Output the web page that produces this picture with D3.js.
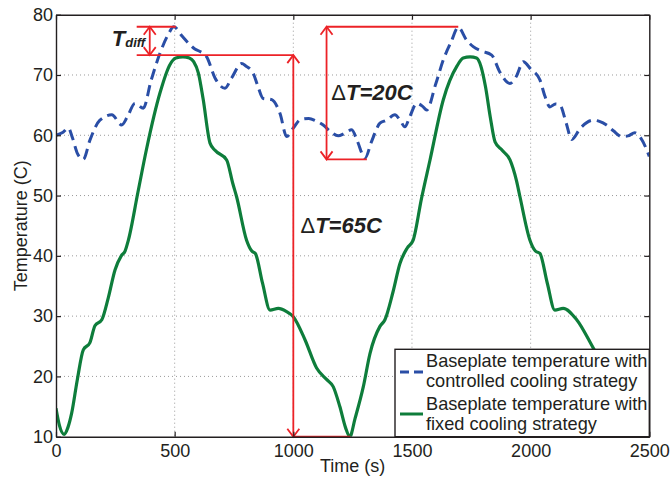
<!DOCTYPE html>
<html>
<head>
<meta charset="utf-8">
<script src="https://cdn.jsdelivr.net/npm/d3@7"></script>
<style>
  html, body { margin: 0; padding: 0; background: #fff; }
  svg { display: block; font-family: "Liberation Sans", Arial, sans-serif; }
</style>
</head>
<body>
<svg id="chart" width="670" height="481"></svg>
<script>
// ---------- data ----------
const xTicks = [0, 500, 1000, 1500, 2000, 2500];
const yTicks = [10, 20, 30, 40, 50, 60, 70, 80];
const xLabel = "Time (s)";
const yLabel = "Temperature (C)";
const seriesNames = ["Baseplate temperature with\ncontrolled cooling strategy",
                     "Baseplate temperature with\nfixed cooling strategy"];

const controlledTime = [0, 30, 52, 70, 90, 115, 143, 185, 235, 277, 300, 333, 368, 400, 438, 470, 497, 530, 565, 585, 607, 635, 670, 712, 740, 782, 800, 831, 850, 873, 895, 909, 944, 972, 1000, 1030, 1065, 1095, 1126, 1160, 1189, 1215, 1246, 1270, 1302, 1330, 1365, 1393, 1428, 1450, 1470, 1490, 1520, 1545, 1562, 1600, 1632, 1665, 1695, 1730, 1758, 1790, 1836, 1870, 1913, 1940, 1969, 2000, 2039, 2060, 2081, 2105, 2124, 2150, 2173, 2210, 2264, 2290, 2320, 2350, 2383, 2410, 2439, 2465, 2500];
const controlledTemp = [60, 60.5, 61.2, 59.5, 57, 56, 59.2, 62.5, 63.4, 61.7, 63, 65.3, 64.5, 69, 73.6, 76.5, 78, 76.5, 75, 74.3, 73.9, 73, 69.5, 67.8, 69.5, 71.9, 71.5, 70.3, 68.2, 66.1, 66, 65.9, 63.6, 59.8, 61.2, 62.6, 62.8, 62.4, 61.7, 60.5, 59.9, 60.3, 60.9, 59, 56.2, 59, 62, 62.5, 63.4, 62.5, 61.4, 63, 65.3, 64.8, 64.2, 68.5, 72.5, 75.5, 77.9, 75.8, 74.7, 74, 73.3, 70.5, 68.6, 69.8, 72.2, 71, 69.2, 66.5, 64.7, 65.2, 65, 62, 59.3, 61.2, 62.5, 62.3, 61.7, 60.7, 59.8, 59.9, 60.4, 59.5, 56.5];

const fixedTime = [0, 15, 34, 50, 66, 90, 115, 143, 164, 193, 220, 249, 275, 291, 305, 345, 382, 438, 480, 505, 535, 562, 580, 600, 620, 649, 670, 719, 745, 761, 803, 825, 840, 870, 902, 937, 970, 1000, 1050, 1098, 1140, 1168, 1196, 1220, 1238, 1260, 1295, 1323, 1365, 1386, 1420, 1449, 1480, 1505, 1540, 1576, 1632, 1690, 1716, 1745, 1772, 1790, 1810, 1830, 1850, 1880, 1913, 1940, 1955, 1997, 2020, 2039, 2070, 2102, 2137, 2194, 2264, 2310, 2350, 2390, 2420, 2450, 2480, 2500];
const fixedTemp = [14.7, 11.8, 10.4, 11.5, 13.9, 19.5, 24.4, 25.6, 28.4, 29.4, 33, 37.7, 40, 40.8, 42.6, 50.5, 57.8, 67, 71.7, 72.8, 73, 72.8, 72.2, 70.3, 66, 58.7, 57.5, 55.9, 52, 49.8, 42.6, 40.8, 40.4, 35.5, 31, 31.3, 30.8, 29.9, 26, 21.4, 19.5, 18.3, 15, 11.5, 10, 13, 18.3, 23.8, 28.3, 29.4, 34, 38.7, 41.3, 42.6, 49.5, 55.9, 65.9, 71.5, 72.8, 73, 72.8, 71.5, 68, 63, 58.9, 57.5, 55.9, 52.5, 49.8, 42.6, 40.8, 40.4, 35.5, 31, 31.3, 29.4, 24.7, 21.5, 19.5, 18.3, 16, 12, 10.5, 11];

// annotation values (time, temperature)
const tdiffLevels = [78, 73.3];
const tdiffStart = 340;
const tdiffEnd = [505, 1000];
const tdiffArrowTime = 395;
const dt65Time = 1000, dt65Top = 73.3, dt65Bottom = 10, dt65End = 1240;
const dt20Time = 1140, dt20Top = 78, dt20Bottom = 56, dt20TopEnd = 1695, dt20BottomEnd = 1310;

// ---------- chart ----------
const svg = d3.select("#chart");
const X0 = 56, X1 = 649.3, Y0 = 14.7, Y1 = 436.7;
const x = d3.scaleLinear().domain([0, 2500]).range([X0, X1]);
const y = d3.scaleLinear().domain([10, 80]).range([Y1, Y0]);
const ink = "#231f20";
const fs = 18;

// grid
const grid = svg.append("g").attr("stroke", "#9a9a9a").attr("stroke-width", 1).attr("stroke-dasharray", "1,3");
grid.selectAll(".gx").data(xTicks.slice(1, -1)).join("line")
  .attr("x1", d => x(d)).attr("x2", d => x(d)).attr("y1", Y0).attr("y2", Y1);
grid.selectAll(".gy").data(yTicks.slice(1, -1)).join("line")
  .attr("y1", d => y(d)).attr("y2", d => y(d)).attr("x1", X0).attr("x2", X1);

// clip
svg.append("clipPath").attr("id", "clip").append("rect")
  .attr("x", X0).attr("y", Y0).attr("width", X1 - X0).attr("height", Y1 - Y0);

const line = d3.line().curve(d3.curveMonotoneX).x(d => x(d[0])).y(d => y(d[1]));
const fixedData = fixedTime.map((t, i) => [t, fixedTemp[i]]);
const ctrlData = controlledTime.map((t, i) => [t, controlledTemp[i]]);

const plot = svg.append("g").attr("clip-path", "url(#clip)");
plot.append("path").datum(fixedData).attr("d", line)
  .attr("fill", "none").attr("stroke", "#0e7d3b").attr("stroke-width", 3.2).attr("stroke-linejoin", "round");
plot.append("path").datum(ctrlData).attr("d", line)
  .attr("fill", "none").attr("stroke", "#2a4ea6").attr("stroke-width", 3).attr("stroke-dasharray", "11,6");

// annotations
const red = "#ec2227";
const ann = svg.append("g").attr("stroke", red).attr("stroke-width", 1.8).attr("fill", "none");
function hline(t0, t1, v) {
  ann.append("line").attr("x1", x(t0)).attr("x2", x(t1)).attr("y1", y(v)).attr("y2", y(v));
}
function darrow(t, vTop, vBot) {
  const px = x(t), yt = y(vTop), yb = y(vBot), w = 6, h = 8;
  ann.append("line").attr("x1", px).attr("x2", px).attr("y1", yt).attr("y2", yb);
  ann.append("path").attr("d", `M${px - w},${yt + h}L${px},${yt}L${px + w},${yt + h}`);
  ann.append("path").attr("d", `M${px - w},${yb - h}L${px},${yb}L${px + w},${yb - h}`);
}
hline(tdiffStart, tdiffEnd[0], tdiffLevels[0]);
hline(tdiffStart, tdiffEnd[1], tdiffLevels[1]);
darrow(tdiffArrowTime, tdiffLevels[0], tdiffLevels[1]);
darrow(dt65Time, dt65Top, dt65Bottom);
hline(dt65Time, dt65End, dt65Bottom);
darrow(dt20Time, dt20Top, dt20Bottom);
hline(dt20Time, dt20TopEnd, dt20Top);
hline(dt20Time, dt20BottomEnd, dt20Bottom);

// annotation text
const tt = svg.append("g").attr("fill", ink);
const tdiffText = tt.append("text").attr("x", x(235)).attr("y", 46)
  .attr("font-weight", "bold").attr("font-style", "italic");
tdiffText.append("tspan").attr("font-size", 22).text("T");
tdiffText.append("tspan").attr("font-size", 13).attr("dy", 1).text("diff");

function deltaText(px, py, str) {
  const t = tt.append("text").attr("x", px).attr("y", py).attr("font-size", 22);
  t.append("tspan").attr("font-weight", "normal").text("\u0394");
  t.append("tspan").attr("font-weight", "bold").attr("font-style", "italic").text(str);
}
deltaText(x(1160), 100, "T=20C");
deltaText(x(1030), 233, "T=65C");

// axes (MATLAB style, inward ticks on all sides)
function styleAxis(g) {
  g.selectAll("path.domain").attr("stroke", ink).attr("stroke-width", 1.4);
  g.selectAll(".tick line").attr("stroke", ink).attr("stroke-width", 1.2);
  g.selectAll(".tick text").attr("fill", ink).attr("font-size", fs)
    .attr("font-family", "'Liberation Sans', Arial, sans-serif");
}
svg.append("g").attr("transform", `translate(0,${Y1})`)
  .call(d3.axisBottom(x).tickValues(xTicks).tickSizeInner(-5).tickSizeOuter(0).tickPadding(7.5).tickFormat(d3.format("d")))
  .call(styleAxis);
svg.append("g").attr("transform", `translate(0,${Y0})`)
  .call(d3.axisTop(x).tickValues(xTicks).tickSizeInner(-5).tickSizeOuter(0).tickFormat(""))
  .call(styleAxis);
svg.append("g").attr("transform", `translate(${X0},0)`)
  .call(d3.axisLeft(y).tickValues(yTicks).tickSizeInner(-5).tickSizeOuter(0).tickPadding(3).tickFormat(d3.format("d")))
  .call(styleAxis);
svg.append("g").attr("transform", `translate(${X1},0)`)
  .call(d3.axisRight(y).tickValues(yTicks).tickSizeInner(-5).tickSizeOuter(0).tickFormat(""))
  .call(styleAxis);

// axis titles
svg.append("text").attr("x", (X0 + X1) / 2).attr("y", 472).attr("text-anchor", "middle")
  .attr("font-size", fs).attr("fill", ink).text(xLabel);
svg.append("text").attr("transform", `translate(27,${(Y0 + Y1) / 2}) rotate(-90)`)
  .attr("text-anchor", "middle").attr("font-size", fs).attr("fill", ink).text(yLabel);

// legend
const LX0 = 395, LX1 = X1, LY0 = 349.3, LY1 = Y1;
const leg = svg.append("g");
leg.append("rect").attr("x", LX0).attr("y", LY0).attr("width", LX1 - LX0).attr("height", LY1 - LY0)
  .attr("fill", "#fff").attr("stroke", ink).attr("stroke-width", 1.4);
const legItems = [
  { name: seriesNames[0], color: "#2a4ea6", dash: "9,5", lines: [366.7, 386.7], sy: 372 },
  { name: seriesNames[1], color: "#0e7d3b", dash: null, lines: [410, 429.5], sy: 414 }
];
legItems.forEach(it => {
  leg.append("line").attr("x1", 400).attr("x2", 423).attr("y1", it.sy).attr("y2", it.sy)
    .attr("stroke", it.color).attr("stroke-width", 3).attr("stroke-dasharray", it.dash);
  it.name.split("\n").forEach((s, i) => {
    leg.append("text").attr("x", 426).attr("y", it.lines[i]).attr("font-size", 18.2)
      .attr("fill", ink).text(s);
  });
});
</script>
</body>
</html>
